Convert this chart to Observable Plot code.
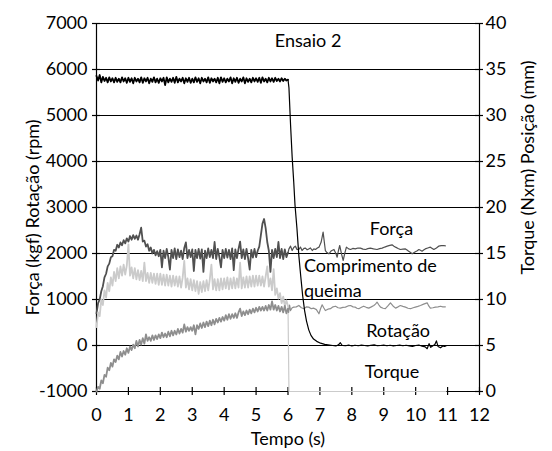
<!DOCTYPE html>
<html>
<head>
<meta charset="utf-8">
<script src="https://cdn.jsdelivr.net/npm/d3@7"></script>
<script src="https://cdn.jsdelivr.net/npm/@observablehq/plot@0.6"></script>
<style>
  html, body { margin: 0; padding: 0; background: #fff; }
</style>
</head>
<body>
<div id="chart"></div>
<script>
// sampling step of the first (0–6 s) part of every record
const dt = 0.05;

// Rotação (rpm), left axis, t = 0 … 6.00 s
const rotacaoRpm = [
  5860,5760,5880,5720,5840,5750,5820,5720,5830,5740,5810,5720,5820,5730,5800,5720,5830,5740,5810,5710,
  5820,5730,5810,5700,5820,5740,5800,5720,5830,5710,5810,5740,5820,5700,5800,5730,5830,5720,5800,5710,
  5810,5740,5820,5660,5830,5720,5800,5730,5820,5710,5840,5720,5800,5740,5820,5700,5810,5730,5820,5710,
  5800,5720,5830,5730,5810,5700,5820,5740,5800,5720,5830,5710,5810,5740,5800,5720,5820,5700,5830,5730,
  5810,5720,5800,5740,5830,5700,5810,5730,5820,5710,5800,5740,5830,5700,5810,5730,5800,5720,5820,5740,
  5810,5730,5820,5710,5830,5740,5800,5720,5820,5740,5810,5730,5820,5750,5800,5740,5810,5750,5800,5760,
  5780
];
const rotacaoTail = [
  [6.03,5600],[6.08,4800],[6.13,4100],[6.18,3550],[6.22,3050],[6.28,2550],[6.34,1950],[6.40,1500],
  [6.46,1080],[6.52,760],[6.58,530],[6.65,340],[6.72,220],[6.80,140],[6.90,90],[7.02,50],[7.15,25],
  [7.30,10],[7.40,0],[7.50,-10],[7.58,15],[7.64,60],[7.70,0],[7.80,-5],[7.90,10],[8.00,-10],[8.10,5],
  [8.20,-5],[8.30,10],[8.40,0],[8.50,-10],[8.60,5],[8.70,15],[8.80,-5],[8.90,0],[9.00,10],[9.10,-5],
  [9.20,5],[9.30,-10],[9.40,0],[9.50,10],[9.60,-5],[9.70,5],[9.80,-10],[9.90,-20],[10.00,0],[10.10,10],
  [10.20,-15],[10.30,-30],[10.36,-70],[10.42,40],[10.47,-40],[10.53,-10],[10.60,20],[10.65,100],
  [10.70,-20],[10.78,-50],[10.85,-10],[10.90,-20],[10.95,-10]
];

// Força (kgf), left axis, t = 0 … 6.00 s
const forcaKgf = [
  700,920,1000,1180,1290,1480,1560,1720,1780,1920,1940,2080,2060,2190,2130,2240,2180,2290,2220,2330,
  2260,2380,2300,2400,2320,2390,2300,2420,2560,2260,2280,2150,2200,2060,2130,2000,2080,1960,2050,1940,
  2080,1700,2060,1900,2100,1920,1650,2080,1900,2110,1880,2090,1920,2060,1880,2120,2240,1900,2080,1920,
  2090,1620,2080,1900,2100,1890,2090,1600,2060,1900,2110,1920,2080,1900,2250,1880,2100,1920,1700,2080,
  1900,2100,1910,2080,1880,2110,1640,2090,1900,2100,2260,1900,2090,1880,2100,1900,1650,2080,1910,2100,
  1920,2060,2150,2400,2650,2750,2550,2250,2060,1600,2080,1900,2100,1920,2250,1900,2100,1880,2090,1920,
  2020
];
const forcaTail = [
  [6.03,2100],[6.08,2160],[6.13,2065],[6.18,2130],[6.23,2160],[6.28,2090],[6.34,2087],[6.39,2140],
  [6.44,2065],[6.50,2110],[6.55,2116],[6.60,2080],[6.65,2100],[6.70,2120],[6.76,2065],[6.81,2100],
  [6.86,2087],[6.92,2120],[6.97,2138],[7.04,2250],[7.10,2464],[7.17,2065],[7.22,2020],[7.28,1993],
  [7.36,2060],[7.44,2087],[7.50,2000],[7.54,1920],[7.58,2060],[7.62,2174],[7.68,1980],[7.73,1848],
  [7.78,2010],[7.83,2138],[7.90,2100],[7.96,2087],[8.03,2110],[8.11,2100],[8.19,2120],[8.27,2116],
  [8.35,2095],[8.43,2087],[8.50,2105],[8.58,2116],[8.68,2100],[8.79,2087],[8.87,2105],[8.95,2116],
  [9.03,2140],[9.11,2159],[9.19,2175],[9.26,2188],[9.32,2160],[9.37,2138],[9.45,2110],[9.52,2087],
  [9.60,2095],[9.68,2100],[9.73,2075],[9.78,2051],[9.84,2020],[9.89,1993],[9.94,2015],[9.99,2036],
  [10.05,2060],[10.10,2087],[10.15,2070],[10.20,2051],[10.25,2075],[10.30,2100],[10.38,2120],
  [10.46,2138],[10.52,2110],[10.57,2087],[10.65,2120],[10.72,2159],[10.80,2170],[10.88,2174],[10.93,2165]
];

// Torque (Nxm), right axis, t = 0 … 6.00 s
const torqueNm = [
  7.0,8.6,8.2,10.0,9.4,11.0,10.2,11.8,10.9,12.4,11.5,13.0,12.0,13.4,12.3,13.6,12.6,13.8,12.7,13.7,
  16.0,12.6,13.5,12.3,13.4,12.2,13.2,12.1,13.1,12.0,14.0,12.0,12.9,11.8,12.9,11.8,12.8,11.7,12.8,11.6,
  12.8,11.6,12.7,11.5,12.7,11.5,12.6,11.4,12.6,11.5,12.5,11.4,12.5,11.3,12.4,14.2,11.3,12.3,11.1,12.2,
  11.0,12.1,10.9,12.0,10.6,11.9,10.8,12.0,10.9,12.1,11.0,12.2,13.8,11.1,12.2,11.0,12.2,11.0,12.3,11.1,
  12.3,11.2,12.4,11.1,12.3,11.2,12.4,11.2,12.3,11.3,14.0,11.2,12.4,11.3,12.5,11.3,12.5,11.4,12.6,11.4,
  12.6,11.5,12.6,11.5,12.5,11.4,12.5,13.6,11.4,12.3,11.0,13.3,10.5,11.2,10.1,10.7,9.6,10.3,9.3,9.9,
  9.3
];
const torqueTail = [[6.03,0],[10.95,0]];

// Posição / comprimento de queima (mm), right axis, t = 0 … 6.00 s
const posicaoMm = [
  0.0,0.5,0.3,1.2,0.9,1.8,1.6,2.6,2.3,3.1,2.7,3.5,3.2,3.9,3.5,4.3,3.8,4.4,4.0,4.7,
  4.2,4.9,4.5,5.1,4.7,5.5,4.9,5.6,5.1,5.8,5.2,6.2,5.5,5.9,5.5,6.1,5.6,6.1,5.7,6.2,
  5.8,6.4,5.9,6.3,5.9,6.5,6.0,6.6,6.1,6.6,6.2,6.8,6.3,6.8,6.4,7.3,6.5,7.0,6.6,7.0,
  6.6,7.2,6.2,7.2,6.8,7.4,6.9,7.5,7.0,7.6,7.1,7.7,7.2,7.8,7.3,7.9,7.5,8.0,7.6,8.1,
  7.7,8.3,7.8,8.4,7.9,8.4,8.0,8.5,8.0,8.6,9.0,8.2,8.7,8.3,8.8,8.4,8.9,8.5,9.0,8.6,
  9.1,8.7,9.2,8.8,9.2,8.8,9.3,8.8,9.4,8.9,9.8,8.9,9.4,8.8,9.3,8.7,9.2,8.6,9.3,8.5,
  9.0
];
const posicaoTail = [
  [6.02,8.6],[6.05,9.4],[6.08,8.8],[6.13,9.1],[6.18,9.17],[6.26,9.2],[6.34,9.35],[6.42,9.1],[6.50,9.0],
  [6.58,9.2],[6.65,9.17],[6.73,9.0],[6.81,9.06],[6.89,8.9],[6.97,8.45],[7.02,9.0],[7.07,9.42],[7.12,9.1],
  [7.17,8.8],[7.25,8.95],[7.33,9.0],[7.41,9.2],[7.49,9.27],[7.57,9.1],[7.64,9.06],[7.72,9.15],[7.80,9.17],
  [7.88,9.3],[7.96,9.35],[8.04,9.2],[8.11,9.17],[8.16,9.05],[8.22,9.0],[8.30,9.15],[8.37,9.27],[8.45,9.15],
  [8.53,9.06],[8.61,9.2],[8.69,9.35],[8.74,9.5],[8.79,9.71],[8.85,9.4],[8.90,9.17],[8.98,9.05],[9.05,9.0],
  [9.13,9.3],[9.21,9.64],[9.29,9.3],[9.37,9.06],[9.45,9.2],[9.52,9.35],[9.60,9.25],[9.68,9.17],[9.76,9.05],
  [9.84,9.0],[9.92,9.1],[9.99,9.17],[10.07,9.25],[10.15,9.35],[10.25,9.5],[10.36,9.64],[10.41,9.3],
  [10.46,9.06],[10.54,9.1],[10.62,9.17],[10.70,9.2],[10.78,9.27],[10.85,9.2],[10.93,9.2]
];

// axes
const xTicks = [0,1,2,3,4,5,6,7,8,9,10,11,12];
const yTicksLeft = [-1000,0,1000,2000,3000,4000,5000,6000,7000];
const yTicksRight = [0,5,10,15,20,25,30,35,40];
const xDomain = [0, 12];
const yDomain = [-1000, 7000];
const rightDomain = [0, 40];

// in-plot texts (time, left-axis value of the baseline)
const labelsCentered = [
  {text: "Ensaio 2", t: 6.63, v: 6500},
  {text: "Força", t: 9.24, v: 2400},
  {text: "Rotação", t: 9.45, v: 180},
  {text: "Torque", t: 9.26, v: -700}
];
const labelsStart = [
  {text: "Comprimento de", t: 6.5, v: 1590},
  {text: "queima", t: 6.5, v: 1045}
];

// right axis is a linear re-labelling of the left one
const toLeft = d3.scaleLinear().domain(rightDomain).range(yDomain);

function head(vals, conv) {
  return vals.map((v, i) => ({t: +(i * dt).toFixed(2), v: conv(v)}));
}
function tail(vals, pairs, conv) {
  const last = vals.length - 1;
  const out = [{t: +(last * dt).toFixed(2), v: conv(vals[last])}];
  pairs.forEach(([t, v]) => out.push({t, v: conv(v)}));
  return out;
}
const id = v => v;

const series = [
  {h: head(forcaKgf, id), tl: tail(forcaKgf, forcaTail, id), color: "#505050"},
  {h: head(torqueNm, toLeft), tl: tail(torqueNm, torqueTail, toLeft), color: "#cbcbcb"},
  {h: head(posicaoMm, toLeft), tl: tail(posicaoMm, posicaoTail, toLeft), color: "#8e8e8e"},
  {h: head(rotacaoRpm, id), tl: tail(rotacaoRpm, rotacaoTail, id), color: "#000"}
];

const lineMarks = [];
series.forEach(s => {
  lineMarks.push(Plot.line(s.h, {x: "t", y: "v", stroke: s.color, strokeWidth: 1.8, strokeLinejoin: "round"}));
  lineMarks.push(Plot.line(s.tl, {x: "t", y: "v", stroke: s.color, strokeWidth: 1.2}));
});

const chart = Plot.plot({
  width: 552,
  height: 451,
  marginLeft: 96,
  marginRight: 73,
  marginTop: 23,
  marginBottom: 60,
  x: {domain: xDomain, label: null},
  y: {domain: yDomain, label: null},
  style: {fontFamily: "Lato, 'Open Sans', sans-serif", fontSize: "18px", color: "#000", background: "#fff"},
  marks: [
    Plot.ruleY(yTicksLeft, {y: d => d, stroke: "#000", strokeWidth: 1.2}),
    Plot.ruleX([0, 12], {x: d => d, stroke: "#000", strokeWidth: 1.2}),
    // tick marks crossing the axes
    Plot.ruleX(xTicks, {x: d => d, y1: -1000, y2: -1000, insetTop: 4, insetBottom: 4, stroke: "#000", strokeWidth: 1.2}),
    Plot.ruleY(yTicksLeft, {y: d => d, x1: 0, x2: 0, insetLeft: 4, insetRight: 4, stroke: "#000", strokeWidth: 1.2}),
    Plot.ruleY(yTicksRight.map(toLeft), {y: d => d, x1: 12, x2: 12, insetLeft: 4, insetRight: 4, stroke: "#000", strokeWidth: 1.2}),
    // tick labels
    Plot.axisX(xTicks, {tickSize: 0, tickPadding: 17, label: null, tickFormat: d => String(d)}),
    Plot.axisY(yTicksLeft, {anchor: "left", tickSize: 0, tickPadding: 9, label: null, tickFormat: d => String(d)}),
    Plot.axisY(yTicksRight.map(toLeft), {anchor: "right", tickSize: 0, tickPadding: 6, label: null,
      tickFormat: d => String(Math.round(toLeft.invert(d)))}),
    // series
    ...lineMarks,
    // texts
    Plot.text(labelsCentered, {x: "t", y: "v", text: "text", textAnchor: "middle", lineAnchor: "bottom", fill: "#000"}),
    Plot.text(labelsStart, {x: "t", y: "v", text: "text", textAnchor: "start", lineAnchor: "bottom", fill: "#000"}),
    // axis titles
    Plot.text(["Força (kgf) Rotação (rpm)"], {text: d => d, frameAnchor: "left", textAnchor: "middle", lineAnchor: "middle", rotate: -90, dx: -63, dy: 10, fill: "#000"}),
    Plot.text(["Torque (Nxm) Posição (mm)"], {text: d => d, frameAnchor: "right", textAnchor: "middle", lineAnchor: "middle", rotate: -90, dx: 49, dy: -40, fill: "#000"}),
    Plot.text(["Tempo (s)"], {text: d => d, frameAnchor: "bottom", textAnchor: "middle", lineAnchor: "bottom", dy: 53, fill: "#000"})
  ]
});
document.getElementById("chart").appendChild(chart);
</script>
</body>
</html>
